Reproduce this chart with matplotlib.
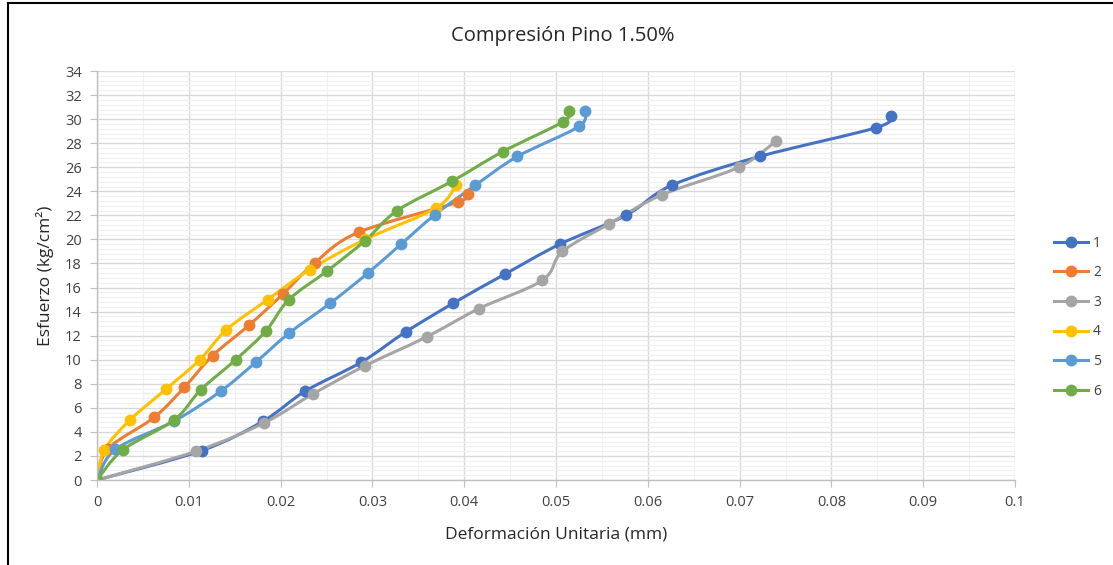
import matplotlib
matplotlib.use("Agg")
import matplotlib.pyplot as plt
import numpy as np
from matplotlib.path import Path
from matplotlib.patches import PathPatch
from matplotlib.lines import Line2D

plt.rcParams['font.family'] = ['Open Sans', 'DejaVu Sans']

title = "Compresión Pino 1.50%"
x_label = "Deformación Unitaria (mm)"
y_label = "Esfuerzo (kg/cm²)"

series_names = ["1", "2", "3", "4", "5", "6"]
series_colors = ["#4472C4", "#ED7D31", "#A5A5A5", "#FFC000", "#5B9BD5", "#70AD47"]

def_1 = [0, 0.0114, 0.0181, 0.0227, 0.0288, 0.0336, 0.0388, 0.0444, 0.0504, 0.0576, 0.0626, 0.0722, 0.0849, 0.0865]
esf_1 = [0, 2.45, 4.9, 7.4, 9.8, 12.3, 14.7, 17.1, 19.6, 22.0, 24.5, 26.9, 29.3, 30.3]

def_2 = [0, 0.0012, 0.0062, 0.0095, 0.0126, 0.0166, 0.0203, 0.0237, 0.0285, 0.0393, 0.0404]
esf_2 = [0, 2.6, 5.2, 7.7, 10.35, 12.9, 15.5, 18.05, 20.6, 23.1, 23.8]

def_3 = [0, 0.0108, 0.0182, 0.0235, 0.0292, 0.0359, 0.0416, 0.0485, 0.0507, 0.0558, 0.0615, 0.0699, 0.0740]
esf_3 = [0, 2.4, 4.75, 7.15, 9.5, 11.9, 14.25, 16.6, 19.0, 21.3, 23.7, 26.0, 28.2]

def_4 = [0, 0.0008, 0.0036, 0.0075, 0.0112, 0.0141, 0.0186, 0.0232, 0.0292, 0.0369, 0.0391]
esf_4 = [0, 2.5, 5.0, 7.55, 10.0, 12.5, 15.0, 17.5, 20.0, 22.6, 24.5]

def_5 = [0, 0.0020, 0.0084, 0.0135, 0.0173, 0.0209, 0.0254, 0.0295, 0.0331, 0.0368, 0.0412, 0.0458, 0.0525, 0.0531]
esf_5 = [0, 2.55, 4.9, 7.4, 9.8, 12.2, 14.7, 17.2, 19.6, 22.05, 24.5, 26.9, 29.4, 30.7]

def_6 = [0, 0.0028, 0.0084, 0.0113, 0.0151, 0.0184, 0.0209, 0.0251, 0.0292, 0.0327, 0.0387, 0.0442, 0.0508, 0.0514]
esf_6 = [0, 2.5, 5.0, 7.5, 10.0, 12.4, 15.0, 17.4, 19.9, 22.4, 24.85, 27.3, 29.8, 30.7]

deformations = [def_1, def_2, def_3, def_4, def_5, def_6]
stresses = [esf_1, esf_2, esf_3, esf_4, esf_5, esf_6]

x_ticks = [0, 0.01, 0.02, 0.03, 0.04, 0.05, 0.06, 0.07, 0.08, 0.09, 0.1]
x_tick_labels = ["0", "0.01", "0.02", "0.03", "0.04", "0.05", "0.06", "0.07", "0.08", "0.09", "0.1"]
y_ticks = list(range(0, 35, 2))


def smooth_path(xs, ys):
    """Catmull-Rom style cubic Bezier path through the points (smoothed line)."""
    pts = np.column_stack([xs, ys]).astype(float)
    n = len(pts)
    verts = [pts[0]]
    codes = [Path.MOVETO]
    for i in range(n - 1):
        p0 = pts[i - 1] if i > 0 else pts[i]
        p1 = pts[i]
        p2 = pts[i + 1]
        p3 = pts[i + 2] if i + 2 < n else pts[i + 1]
        c1 = p1 + (p2 - p0) / 6.0
        c2 = p2 - (p3 - p1) / 6.0
        verts += [c1, c2, p2]
        codes += [Path.CURVE4] * 3
    return Path(verts, codes)


fig = plt.figure(figsize=(11.13, 5.65), dpi=100)
ax = fig.add_axes([0.0872, 0.1504, 0.8248, 0.7239])

ax.set_xlim(0, 0.1)
ax.set_ylim(0, 34)
ax.set_xticks(x_ticks)
ax.set_xticklabels(x_tick_labels)
ax.set_yticks(y_ticks)
ax.set_xticks(np.arange(0.005, 0.1, 0.01), minor=True)
ax.set_yticks(np.arange(0, 34.01, 0.4), minor=True)

ax.grid(True, which='minor', color='#F0F0F0', linewidth=0.8)
ax.grid(True, which='major', color='#D9D9D9', linewidth=1.0)
ax.set_axisbelow(True)

for s in ['top', 'right']:
    ax.spines[s].set_visible(False)
for s in ['left', 'bottom']:
    ax.spines[s].set_color('#BFBFBF')
    ax.spines[s].set_linewidth(1.0)

ax.tick_params(which='major', direction='out', length=5, color='#BFBFBF',
               labelsize=10.5, labelcolor='#404040', pad=6)
ax.tick_params(which='minor', length=0)

for xs, ys, col in zip(deformations, stresses, series_colors):
    ax.add_patch(PathPatch(smooth_path(xs, ys), facecolor='none', edgecolor=col,
                           linewidth=2.2, capstyle='round', joinstyle='round'))
    ax.plot(xs, ys, linestyle='none', marker='o', markersize=7.5,
            color=col, markeredgecolor=col)

fig.text(0.506, 0.936, title, fontsize=14.5, color='#262626', ha='center', va='center')
ax.set_xlabel(x_label, fontsize=12.5, color='#262626', labelpad=12)
ax.set_ylabel(y_label, fontsize=12.5, color='#262626', labelpad=8)

handles = [Line2D([0], [0], color=c, linewidth=2.2, marker='o', markersize=7.5)
           for c in series_colors]
fig.legend(handles, series_names, loc='upper left', bbox_to_anchor=(0.936, 0.605),
           frameon=False, fontsize=10, handlelength=2.4, labelspacing=1.05,
           handletextpad=0.4, labelcolor='#404040')

# chart frame
fig.add_artist(Line2D([0.0072, 0.0072], [0, 0.994], transform=fig.transFigure,
                      color='black', linewidth=1.5))
fig.add_artist(Line2D([0.0072, 1.0], [0.994, 0.994], transform=fig.transFigure,
                      color='black', linewidth=1.5))

fig.savefig("out.png", dpi=100)
